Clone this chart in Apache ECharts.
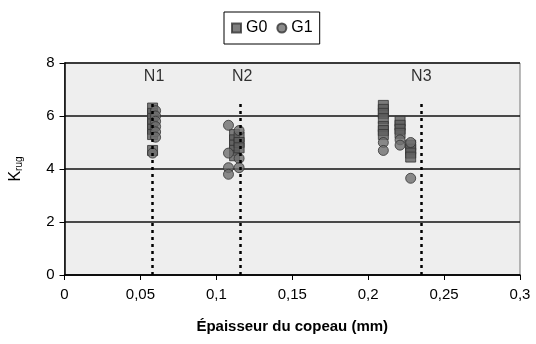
<!DOCTYPE html>
<html><head><meta charset="utf-8">
<script src="https://cdn.jsdelivr.net/npm/echarts@6/dist/echarts.min.js"></script>
<style>html,body{margin:0;padding:0;background:#fff}#c{width:536px;height:344px}</style>
</head><body><div id="c"></div>
<script>
// ---- data ----
var g0Points = [
  [0.058,6.3],[0.058,6.1],[0.058,5.9],[0.058,5.7],[0.058,5.5],[0.058,5.3],[0.058,4.7],
  [0.112,5.3],[0.112,5.1],[0.112,4.9],[0.112,4.7],[0.112,4.5],[0.115,5.2],[0.115,5.0],[0.115,4.8],
  [0.210,6.4],[0.210,6.25],[0.210,6.1],[0.210,5.9],[0.210,5.6],[0.210,5.45],[0.210,5.3],
  [0.221,5.8],[0.221,5.65],[0.221,5.5],[0.221,5.35],
  [0.228,4.9],[0.228,4.75],[0.228,4.6],[0.228,4.45]
];
var g1Points = [
  [0.060,6.2],[0.060,6.0],[0.060,5.8],[0.060,5.6],[0.060,5.4],[0.060,5.2],[0.058,4.6],
  [0.108,5.65],[0.108,4.6],[0.108,4.05],[0.108,3.8],[0.115,5.45],[0.115,4.4],[0.115,4.05],
  [0.210,5.0],[0.210,4.7],
  [0.221,5.1],[0.221,4.9],
  [0.228,5.0],[0.228,3.65]
];
var nLineX = [0.058, 0.116, 0.235];
var nLineTop = 6.6;
var nLabels = ['N1','N2','N3'];
var nLabelX = [0.059, 0.117, 0.235];
var nLabelY = 7.5;
var seriesNames = ['G0','G1'];

var FONT = "'Liberation Sans', Arial, sans-serif";
var chart = echarts.init(document.getElementById('c'), null, {renderer:'canvas'});
function fmt(v){ return String(Number(v.toFixed(2))).replace('.', ','); }
var labelData = nLabels.map(function(n,i){ return [nLabelX[i], nLabelY, n]; });
chart.setOption({
  animation:false,
  textStyle:{fontFamily:FONT},
  legend:{
    data:seriesNames, left:224, top:12, borderColor:'#000', borderWidth:1,
    padding:[8,7], itemGap:9, itemWidth:9, itemHeight:9,
    textStyle:{fontSize:16, color:'#000', fontFamily:FONT}
  },
  grid:{left:61, right:16, top:63, bottom:69, show:true, backgroundColor:'#eeeeee', borderColor:'#777', borderWidth:1},
  xAxis:{
    type:'value', min:0, max:0.3, interval:0.05,
    name:'Épaisseur du copeau (mm)', nameLocation:'middle', nameGap:44,
    nameTextStyle:{fontSize:15, fontWeight:'bold', color:'#000', fontFamily:FONT},
    axisLine:{lineStyle:{color:'#000', width:1.5}},
    axisTick:{show:true, length:5, lineStyle:{color:'#000'}},
    axisLabel:{fontSize:15, color:'#000', margin:12, formatter:fmt, fontFamily:FONT},
    splitLine:{show:false}
  },
  yAxis:{
    type:'value', min:0, max:8, interval:2,
    name:'{k|K}{s|rug}', nameLocation:'middle', nameGap:40, nameRotate:90,
    nameTextStyle:{rich:{k:{fontSize:16, color:'#000', fontFamily:FONT}, s:{fontSize:10, color:'#000', padding:[7,0,0,0], fontFamily:FONT}}},
    axisLine:{lineStyle:{color:'#000', width:1.5}},
    axisTick:{show:true, length:5, lineStyle:{color:'#000'}},
    axisLabel:{fontSize:15, color:'#000', margin:10, fontFamily:FONT},
    splitLine:{show:true, lineStyle:{color:'#111', width:1.5}}
  },
  series:[
    {name:'G0', type:'scatter', symbol:'rect', symbolSize:10, data:g0Points,
     itemStyle:{color:'#5e5e5e', borderColor:'#333', borderWidth:1}, z:3},
    {name:'G1', type:'scatter', symbol:'circle', symbolSize:10, data:g1Points,
     itemStyle:{color:'#6e6e6e', borderColor:'#333', borderWidth:1}, z:3,
     markLine:{
       silent:true, symbol:['none','none'],
       lineStyle:{color:'#000', width:2.5, type:[3,4]},
       label:{show:false},
       data: nLineX.map(function(x){ return [{coord:[x,0]},{coord:[x,nLineTop]}]; })
     }},
    {name:'labels', type:'scatter', symbolSize:0, data:labelData, silent:true,
     label:{show:true, position:'inside', formatter:function(p){return p.data[2];}, fontSize:16, color:'#000', fontFamily:FONT}}
  ]
});
</script></body></html>
